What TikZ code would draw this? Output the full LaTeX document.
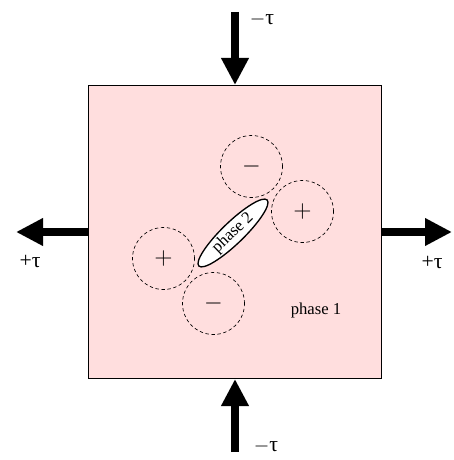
\documentclass[tikz,border=0pt]{standalone}
\usepackage{fontspec}
\setmainfont{Liberation Serif}
\usetikzlibrary{shapes.geometric,arrows.meta,positioning}
\definecolor{boxpink}{RGB}{255,222,222}

\begin{document}
\begin{tikzpicture}[
  x=0.6pt, y=-0.6pt,
  grain/.style={draw, fill=boxpink, minimum size=175.8pt, inner sep=0pt, line width=0.6pt},
  charge/.style={draw, circle, dashed, dash pattern=on 2pt off 1.6pt, minimum size=37.2pt, inner sep=0pt, font=\fontsize{14}{16}\selectfont},
  incl/.style={draw, fill=white, ellipse, rotate=44, minimum width=57pt, minimum height=13pt, inner sep=0pt, line width=0.8pt, font=\fontsize{10}{12}\selectfont},
  force/.style={-{Triangle[width=15.6pt, length=16.2pt]}, line width=4.8pt},
  tau/.style={font=\fontsize{13}{15}\selectfont}
]
\useasboundingbox (0,0) rectangle (453,460);

% --- matrix (phase 1) ---
\node[grain] (box) at (234.5,232) {};
\node[font=\fontsize{10}{12}\selectfont] (ph1) at (316,310) {phase 1};

% --- inclusion (phase 2) and its charges ---
\node[incl] (ph2) at (233,233) {phase 2};
\node[charge] (qtop) at (251.5,166.5) {$-$};
\node[charge] (qright) at (302.5,211.5) {$+$};
\node[charge] (qleft) at (163.5,258.5) {$+$};
\node[charge] (qbot) at (213.5,303.5) {$-$};

% --- applied loads ---
\coordinate (ftop) at (235,12);
\coordinate (fbot) at (235,452);
\coordinate (fleft) at (16,232);
\coordinate (fright) at (452,232);
\draw[force] (ftop) -- (ftop |- box.north);
\draw[force] (fbot) -- (fbot |- box.south);
\draw[force] (box.west |- fleft) -- (fleft);
\draw[force] (box.east |- fright) -- (fright);

\node[tau] (ttop) at (262,20) {$-$τ};
\node[tau] (tbot) at (266,446) {$-$τ};
\node[tau] (tleft) at (30,261) {+τ};
\node[tau] (tright) at (432,262) {+τ};
\end{tikzpicture}
\end{document}
